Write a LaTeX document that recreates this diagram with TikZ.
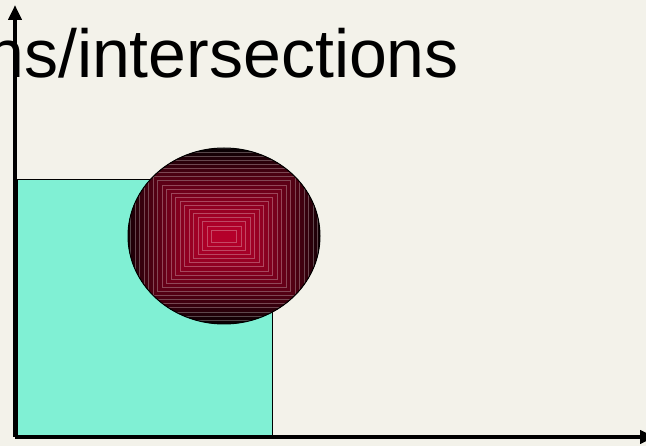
\documentclass[tikz,border=0pt]{standalone}
\usepackage{fontspec}
\setmainfont{Liberation Sans}
\usetikzlibrary{arrows.meta}
\definecolor{paperbg}{RGB}{243,242,234}
\definecolor{squarefill}{RGB}{128,240,212}
\definecolor{discred}{RGB}{180,0,42}

\begin{document}
\begin{tikzpicture}[
    x=1pt, y=-1pt,
    axis/.style={line width=4pt, -{Triangle[width=13pt,length=15pt]}},
    square/.style={draw=black, line width=1pt, fill=squarefill},
    ring/.style={draw=white, draw opacity=0.28, line width=0.5pt}
]
\useasboundingbox (0,0) rectangle (646,446);
\clip (0,0) rectangle (646,446);
\fill[paperbg] (0,0) rectangle (646,446);

\node[anchor=base east, inner sep=0pt, font=\fontsize{68}{80}\selectfont] (title) at (459,78) {ns/intersections};

\draw[square] (17,180) rectangle (272,437);

% shaded disc
\begin{scope}
    \clip (224,236) ellipse [x radius=96, y radius=88];
    \foreach \i in {22,...,1} {
        \pgfmathsetmacro\tone{100*(1-((\i-1)/21)^1.3)}
        \filldraw[ring, fill=discred!\tone!black] (224-8-\i*4.5,236-2-\i*4.1) rectangle (224+8+\i*4.5,236+2+\i*4.1);
    }
\end{scope}
\draw[line width=1pt] (224,236) ellipse [x radius=96, y radius=88];

\coordinate (origin) at (15,437);
\coordinate (ytop) at (15,5);
\coordinate (xend) at (655,437);
\draw[axis] (origin) -- (ytop);
\draw[axis] (origin) -- (xend);

\end{tikzpicture}
\end{document}
